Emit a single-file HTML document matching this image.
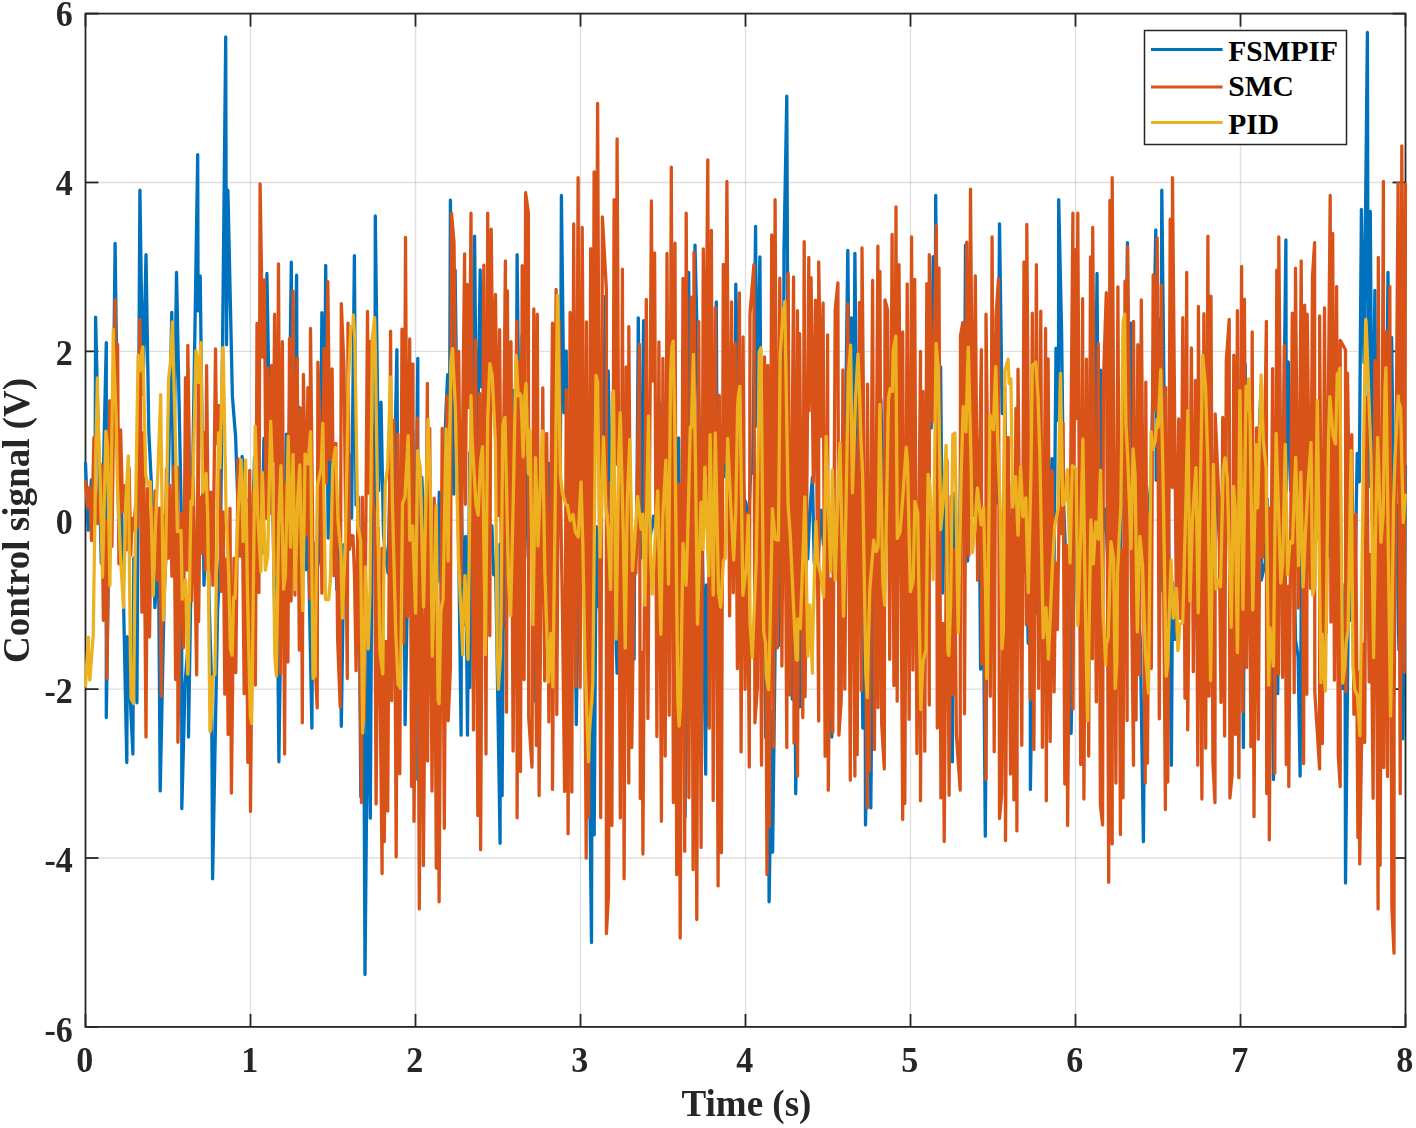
<!DOCTYPE html>
<html><head><meta charset="utf-8"><style>
html,body{margin:0;padding:0;background:#fff;width:1416px;height:1128px;overflow:hidden}
svg{display:block;filter:blur(0.6px)}
</style></head><body><svg width="1416" height="1128" viewBox="0 0 1416 1128"><g stroke="#262626" stroke-opacity="0.15" stroke-width="1.4"><line x1="250.50" y1="13.6" x2="250.50" y2="1026.9"/><line x1="415.50" y1="13.6" x2="415.50" y2="1026.9"/><line x1="580.50" y1="13.6" x2="580.50" y2="1026.9"/><line x1="745.50" y1="13.6" x2="745.50" y2="1026.9"/><line x1="910.50" y1="13.6" x2="910.50" y2="1026.9"/><line x1="1075.50" y1="13.6" x2="1075.50" y2="1026.9"/><line x1="1240.50" y1="13.6" x2="1240.50" y2="1026.9"/><line x1="85.5" y1="858.02" x2="1405.5" y2="858.02"/><line x1="85.5" y1="689.13" x2="1405.5" y2="689.13"/><line x1="85.5" y1="520.25" x2="1405.5" y2="520.25"/><line x1="85.5" y1="351.37" x2="1405.5" y2="351.37"/><line x1="85.5" y1="182.48" x2="1405.5" y2="182.48"/></g><g stroke="#262626" stroke-width="1.8" fill="none"><rect x="85.5" y="13.6" width="1320.0" height="1013.3000000000001" fill="none"/><line x1="85.50" y1="1026.9" x2="85.50" y2="1013.9000000000001"/><line x1="85.50" y1="13.6" x2="85.50" y2="26.6"/><line x1="250.50" y1="1026.9" x2="250.50" y2="1013.9000000000001"/><line x1="250.50" y1="13.6" x2="250.50" y2="26.6"/><line x1="415.50" y1="1026.9" x2="415.50" y2="1013.9000000000001"/><line x1="415.50" y1="13.6" x2="415.50" y2="26.6"/><line x1="580.50" y1="1026.9" x2="580.50" y2="1013.9000000000001"/><line x1="580.50" y1="13.6" x2="580.50" y2="26.6"/><line x1="745.50" y1="1026.9" x2="745.50" y2="1013.9000000000001"/><line x1="745.50" y1="13.6" x2="745.50" y2="26.6"/><line x1="910.50" y1="1026.9" x2="910.50" y2="1013.9000000000001"/><line x1="910.50" y1="13.6" x2="910.50" y2="26.6"/><line x1="1075.50" y1="1026.9" x2="1075.50" y2="1013.9000000000001"/><line x1="1075.50" y1="13.6" x2="1075.50" y2="26.6"/><line x1="1240.50" y1="1026.9" x2="1240.50" y2="1013.9000000000001"/><line x1="1240.50" y1="13.6" x2="1240.50" y2="26.6"/><line x1="1405.50" y1="1026.9" x2="1405.50" y2="1013.9000000000001"/><line x1="1405.50" y1="13.6" x2="1405.50" y2="26.6"/><line x1="85.5" y1="1026.90" x2="98.5" y2="1026.90"/><line x1="1405.5" y1="1026.90" x2="1392.5" y2="1026.90"/><line x1="85.5" y1="858.02" x2="98.5" y2="858.02"/><line x1="1405.5" y1="858.02" x2="1392.5" y2="858.02"/><line x1="85.5" y1="689.13" x2="98.5" y2="689.13"/><line x1="1405.5" y1="689.13" x2="1392.5" y2="689.13"/><line x1="85.5" y1="520.25" x2="98.5" y2="520.25"/><line x1="1405.5" y1="520.25" x2="1392.5" y2="520.25"/><line x1="85.5" y1="351.37" x2="98.5" y2="351.37"/><line x1="1405.5" y1="351.37" x2="1392.5" y2="351.37"/><line x1="85.5" y1="182.48" x2="98.5" y2="182.48"/><line x1="1405.5" y1="182.48" x2="1392.5" y2="182.48"/><line x1="85.5" y1="13.60" x2="98.5" y2="13.60"/><line x1="1405.5" y1="13.60" x2="1392.5" y2="13.60"/></g><defs><clipPath id="clp"><rect x="83.5" y="13.5" width="1324.0" height="1013.0"/></clipPath></defs><g fill="none" stroke-width="3.3" stroke-linejoin="round" stroke-linecap="round" clip-path="url(#clp)"><polyline stroke="#0072bd" points="85.5,463.2 88.2,530.2 91.4,479.8 95.0,521.6 95.6,317.1 101.3,563.2 106.3,342.6 106.3,717.5 110.0,457.9 113.0,436.7 115.1,243.3 118.9,541.5 121.6,505.9 126.8,762.5 127.3,636.6 132.9,754.0 133.8,558.0 136.9,702.8 139.9,190.2 142.9,394.3 146.0,254.7 148.8,431.3 151.6,488.8 154.9,607.7 158.5,554.1 160.2,790.9 164.2,595.9 167.6,515.5 171.8,312.4 173.4,503.4 176.5,272.4 181.7,535.2 181.8,808.6 185.1,683.5 188.4,641.2 188.5,737.0 197.7,154.7 198.1,310.8 200.2,275.9 204.0,585.3 206.7,501.6 209.1,601.1 211.6,683.6 212.6,878.8 217.6,611.1 220.4,556.1 225.7,37.0 226.5,344.7 227.9,190.2 232.4,396.4 235.6,436.8 239.1,539.2 242.1,456.5 245.5,500.0 248.9,500.4 252.0,547.1 254.5,457.5 256.9,530.2 259.1,520.0 261.9,553.4 263.9,438.5 266.4,471.5 266.9,273.5 270.4,475.2 272.4,484.1 274.9,626.6 277.1,577.2 278.9,761.8 282.2,521.0 284.1,570.8 286.4,434.1 288.2,515.2 291.3,262.1 292.5,513.6 296.6,275.2 297.4,526.7 299.3,407.4 301.5,502.8 303.8,511.6 305.7,569.6 307.8,516.5 311.9,728.1 312.9,542.1 315.4,642.8 317.2,569.1 319.7,553.9 321.9,312.6 324.4,441.6 325.7,265.3 328.2,538.1 330.8,374.6 332.8,555.9 334.6,506.4 336.8,589.7 339.4,512.6 341.3,726.3 344.0,544.6 346.6,564.1 349.1,455.0 351.6,518.1 354.4,255.7 356.0,504.9 358.6,498.1 360.8,796.7 363.4,615.0 365.0,974.5 368.2,632.7 370.3,818.2 372.5,426.1 374.8,511.4 375.3,216.0 378.7,490.6 381.0,402.1 383.5,534.6 385.5,556.1 388.0,573.1 390.5,454.8 392.9,547.7 396.9,349.7 397.7,485.0 400.1,518.7 402.4,642.9 404.2,571.2 405.1,724.6 408.3,542.7 410.8,508.5 412.9,430.4 415.0,651.3 417.8,358.5 417.8,779.5 421.8,477.1 424.0,527.7 426.3,550.5 428.8,536.5 431.0,574.5 433.2,579.6 435.7,568.2 437.4,582.0 439.3,492.2 441.4,599.0 443.3,495.2 445.9,412.0 447.7,374.6 449.6,421.1 450.4,200.1 453.8,494.0 455.1,269.9 461.1,735.2 461.5,503.6 463.8,624.9 465.6,536.4 467.5,735.2 469.7,452.7 469.9,687.4 474.6,236.2 476.8,491.5 480.2,269.9 481.3,386.8 483.6,361.8 485.4,475.7 487.3,428.8 489.9,552.1 491.9,525.7 493.7,574.8 495.8,575.2 500.1,843.3 500.1,544.0 502.1,795.7 504.1,485.9 506.3,628.0 508.7,487.8 510.7,500.4 513.2,390.3 515.9,515.8 517.1,254.7 520.2,542.9 522.1,335.5 524.8,557.3 527.3,454.2 529.2,503.1 531.3,539.5 533.4,556.7 535.5,701.5 535.8,580.3 539.6,584.0 542.1,570.4 544.6,491.6 546.4,537.7 548.7,463.3 551.0,527.3 553.6,437.0 555.7,592.2 558.3,339.9 560.2,498.4 561.4,195.5 564.0,412.7 566.2,350.8 568.1,545.6 570.1,486.1 572.0,606.8 573.9,465.7 576.3,724.6 578.5,569.8 581.1,554.8 583.5,417.5 585.5,605.2 588.1,640.0 591.5,942.6 592.4,549.2 594.2,834.8 596.2,526.6 598.5,606.7 600.2,472.8 602.7,488.9 605.4,296.5 607.0,512.8 608.2,370.9 611.0,529.6 612.9,523.0 617.1,673.2 617.1,536.7 619.2,591.4 621.3,486.9 623.7,543.1 625.6,541.8 627.5,524.9 629.9,528.6 634.1,659.0 634.5,577.6 636.6,544.2 638.3,317.8 640.6,557.9 643.6,320.6 644.2,536.9 646.5,389.1 648.9,546.1 651.5,527.7 653.6,516.1 656.0,535.3 658.0,482.9 659.9,402.7 662.0,520.6 664.4,544.4 666.8,565.8 669.4,442.1 671.9,511.7 674.2,511.4 676.4,511.3 678.6,438.0 680.8,643.8 683.2,585.3 685.1,816.7 688.7,272.4 690.1,632.7 692.3,384.6 694.8,516.9 695.0,245.1 699.4,434.7 701.6,486.2 705.7,774.2 706.4,585.0 709.2,726.3 710.4,543.9 712.7,630.2 716.3,301.8 716.7,391.5 719.2,466.7 721.2,502.2 723.3,449.6 725.7,477.1 728.3,477.8 730.6,444.9 732.9,380.3 735.0,471.1 735.8,284.1 739.5,472.6 741.6,425.7 744.0,498.5 745.8,502.8 748.2,538.6 750.6,472.3 752.7,473.1 755.6,226.3 756.5,426.2 759.9,256.8 761.2,480.0 763.8,444.0 765.7,737.5 767.5,445.4 769.1,901.8 772.0,712.2 772.6,852.2 776.2,558.9 778.6,645.6 781.2,363.1 783.5,426.9 784.0,249.7 786.8,96.2 788.1,423.8 792.4,699.2 794.8,601.9 795.7,793.7 799.3,562.8 799.9,706.8 803.4,510.6 805.5,544.6 807.7,559.0 809.9,508.9 812.4,477.3 814.2,560.6 816.2,581.0 818.8,547.3 821.0,510.1 823.4,544.4 825.7,498.8 827.6,580.6 829.7,623.8 831.8,737.0 833.6,528.7 836.2,540.6 838.6,504.6 841.2,592.9 842.9,480.4 845.3,441.7 847.8,250.4 849.5,416.0 851.3,317.8 853.7,443.7 854.9,253.3 858.0,572.9 860.5,482.1 862.8,728.0 864.8,501.1 865.5,824.9 869.4,574.3 870.8,807.9 873.6,499.7 875.6,643.1 877.4,513.5 879.4,489.8 880.8,398.6 883.5,509.9 885.7,446.8 888.2,514.3 890.6,568.6 893.0,530.2 895.6,411.6 897.6,557.1 899.7,531.2 901.7,544.4 903.5,560.1 905.8,598.6 908.0,549.5 909.8,535.1 912.4,469.1 915.0,537.3 916.9,541.7 918.6,533.1 920.4,463.3 922.8,548.5 925.3,527.4 927.2,542.3 928.9,370.9 931.2,428.0 933.2,256.6 935.0,414.6 935.7,195.5 938.7,580.8 940.6,366.8 942.7,593.0 944.9,474.0 946.9,569.5 948.9,615.6 952.4,761.8 953.3,493.3 955.3,623.0 957.6,561.3 959.7,551.3 961.8,334.7 963.9,536.9 965.5,245.1 967.6,561.1 969.9,363.6 972.3,515.4 974.3,478.3 976.2,493.4 978.8,444.8 980.6,669.2 983.1,561.6 985.3,836.2 987.5,518.4 990.0,641.8 991.9,372.7 993.7,542.7 994.9,335.5 997.7,503.2 999.5,223.8 1002.2,413.5 1004.6,403.3 1007.0,509.2 1008.8,528.3 1010.8,520.4 1013.2,510.1 1015.1,558.2 1017.7,489.6 1020.1,496.5 1022.1,489.2 1024.1,572.7 1026.1,522.8 1028.2,643.1 1030.2,594.7 1030.4,789.4 1034.0,541.9 1035.9,613.3 1038.0,566.3 1040.1,520.3 1042.6,507.9 1045.0,559.6 1047.3,528.8 1049.8,531.6 1051.9,458.6 1054.0,569.2 1056.0,348.2 1058.5,420.6 1058.7,199.7 1061.6,331.9 1063.6,501.7 1067.8,615.4 1069.6,567.3 1071.1,733.4 1074.6,546.9 1076.8,539.4 1079.4,490.0 1082.0,544.9 1084.4,498.9 1086.5,493.2 1088.6,494.8 1090.7,553.0 1092.8,415.2 1095.0,474.0 1097.0,273.5 1098.6,518.9 1100.5,370.2 1102.8,531.1 1105.3,509.1 1107.7,557.3 1109.6,543.8 1112.2,722.8 1114.1,645.3 1116.0,651.2 1117.8,527.6 1120.1,573.6 1122.1,454.5 1124.4,476.6 1127.5,242.6 1128.8,518.0 1130.8,323.1 1133.0,500.1 1135.2,491.8 1137.8,612.6 1140.3,639.5 1143.4,841.6 1145.2,627.3 1147.0,709.8 1148.9,505.1 1151.2,476.7 1155.8,229.9 1156.2,480.2 1158.1,318.8 1160.2,590.9 1161.8,190.2 1165.0,482.2 1167.5,452.3 1171.4,765.3 1172.5,582.9 1174.8,639.4 1177.2,567.0 1179.2,554.4 1181.1,529.3 1183.7,539.6 1185.5,511.3 1187.5,570.8 1189.8,467.9 1192.4,548.6 1194.3,529.6 1196.3,479.4 1198.8,488.8 1200.8,571.4 1203.0,528.3 1205.0,532.2 1206.8,495.6 1209.4,520.0 1211.8,541.8 1213.6,531.6 1215.4,447.3 1217.3,507.7 1219.4,538.1 1221.9,566.2 1223.8,525.1 1225.8,511.3 1227.8,511.9 1230.0,554.5 1232.6,534.3 1234.8,518.5 1237.4,482.9 1239.6,683.5 1241.7,484.4 1243.4,747.6 1245.2,363.8 1248.7,587.8 1250.9,556.9 1253.0,543.0 1255.1,462.6 1257.0,521.8 1258.9,438.3 1261.1,385.1 1261.3,580.2 1265.2,562.3 1267.1,498.4 1269.1,672.5 1270.9,517.2 1273.5,779.5 1275.3,602.0 1277.7,693.7 1280.2,489.0 1282.0,569.1 1285.9,239.8 1286.3,491.1 1288.3,362.0 1290.6,490.6 1293.1,488.2 1295.5,640.1 1298.1,656.3 1300.1,776.0 1301.9,498.9 1304.1,655.4 1305.9,526.6 1307.7,551.3 1309.8,478.0 1312.0,501.9 1313.9,514.5 1315.7,540.6 1317.8,520.3 1320.2,510.7 1322.4,544.8 1323.1,669.6 1327.4,475.4 1329.9,557.1 1332.2,445.5 1334.4,498.9 1336.5,482.5 1338.3,496.6 1340.1,540.2 1342.5,688.5 1345.0,584.0 1345.5,883.0 1348.7,567.3 1350.7,620.2 1352.7,540.2 1355.2,569.5 1357.2,453.5 1359.3,481.8 1361.4,209.5 1364.0,362.7 1367.4,32.4 1368.4,487.1 1370.3,211.4 1372.3,518.9 1374.9,290.3 1376.8,547.1 1378.9,454.3 1381.3,537.4 1383.5,340.2 1385.8,518.7 1388.0,272.4 1390.4,558.4 1391.6,337.3 1394.5,561.2 1396.7,505.5 1398.9,649.6 1401.1,583.1 1402.9,738.8 1405.5,466.4"/><polyline stroke="#d95319" points="85.5,481.3 87.6,507.1 89.5,487.7 91.6,540.5 93.9,437.7 95.8,480.5 97.4,523.7 99.2,512.0 101.4,464.8 103.4,620.4 105.5,520.8 107.0,678.5 109.7,400.7 111.9,546.4 115.1,300.0 115.8,435.3 117.6,344.4 118.9,563.8 120.6,429.8 122.7,511.9 124.8,485.6 127.0,549.8 129.1,467.6 130.7,555.2 132.2,518.3 133.9,529.8 135.5,504.9 137.4,527.3 139.9,319.5 141.9,612.2 143.5,432.7 146.0,737.0 147.5,488.3 149.5,636.9 151.4,507.5 153.1,569.3 155.3,491.0 157.5,579.9 159.5,508.2 161.2,696.2 163.0,516.0 164.8,579.1 166.5,469.0 168.2,558.3 169.8,485.4 171.9,576.3 173.9,466.3 175.6,679.5 177.8,467.5 177.9,742.3 181.5,513.5 183.5,647.6 185.5,377.7 187.2,570.2 187.8,345.4 191.5,600.9 193.2,476.8 196.7,674.9 198.4,360.3 198.6,621.6 200.2,497.5 202.1,553.0 203.8,432.3 205.4,569.9 206.6,365.6 208.8,588.3 210.9,492.1 212.9,585.3 215.5,349.0 216.6,443.7 218.7,405.4 221.0,591.4 223.2,511.8 224.8,694.2 226.6,558.8 228.1,734.4 230.0,508.3 231.4,793.0 234.0,558.2 235.8,672.6 238.1,458.9 240.1,556.1 242.3,510.3 244.2,693.7 246.2,521.3 247.8,762.3 249.7,470.5 250.5,811.4 253.4,490.6 255.4,685.1 257.0,323.4 258.9,592.5 260.1,183.8 262.8,357.1 264.4,280.0 266.1,518.4 267.9,368.2 269.9,513.4 271.7,365.4 273.4,461.1 274.6,314.2 276.9,576.1 278.5,263.9 280.5,673.7 282.4,341.7 284.6,754.0 285.7,484.5 287.9,662.0 289.5,338.6 291.1,601.1 293.1,291.2 294.9,595.1 297.2,358.2 299.3,650.0 301.0,408.7 302.3,722.8 303.4,374.5 306.3,535.1 307.9,387.7 309.8,598.7 310.5,328.4 313.8,634.9 317.2,707.9 317.9,362.1 320.2,433.0 321.9,593.2 324.1,348.4 326.3,483.0 327.8,281.6 330.0,459.4 332.1,368.9 334.0,575.7 335.9,443.4 337.6,638.8 340.2,706.8 341.3,303.6 344.0,366.9 347.3,678.5 348.0,323.1 349.4,549.5 351.4,535.4 353.0,535.8 354.5,575.3 356.1,670.7 358.1,496.7 361.5,802.6 362.3,497.1 364.3,720.6 367.5,311.4 368.4,493.1 370.7,341.2 372.8,498.7 374.6,513.8 376.1,804.0 378.3,527.5 382.1,873.5 382.2,548.2 384.3,841.5 386.0,641.3 387.7,811.0 390.6,331.2 391.7,700.6 393.8,420.4 396.2,856.8 397.8,434.1 399.8,773.8 402.0,329.1 403.8,642.9 405.5,237.3 407.5,616.5 409.7,338.9 411.6,786.4 412.9,363.8 414.0,821.3 417.3,418.2 419.3,908.9 421.5,499.0 423.4,865.5 427.4,383.3 427.6,760.9 429.7,428.5 432.0,791.1 434.2,498.2 436.3,868.1 438.2,674.4 439.1,901.8 442.2,428.5 444.3,828.3 446.9,395.8 448.2,720.8 450.4,667.9 451.5,213.2 454.0,241.9 456.3,446.7 458.7,351.4 460.9,583.0 464.6,254.0 465.4,504.3 467.2,284.4 469.3,407.7 471.0,213.2 473.5,729.9 475.6,339.8 477.8,815.5 479.7,393.5 480.6,849.7 483.8,265.2 486.0,754.0 487.7,213.2 489.8,635.7 491.2,229.1 493.2,409.2 495.5,294.5 497.8,515.7 499.6,329.7 501.8,628.1 505.4,261.0 506.5,712.2 507.4,291.0 509.1,575.6 511.0,341.7 513.1,751.0 516.7,321.3 517.1,817.8 518.9,361.5 520.5,771.5 522.2,265.6 524.1,679.6 525.6,192.6 528.4,213.2 528.7,717.4 532.0,767.1 533.8,308.9 536.4,745.5 537.3,314.2 539.1,795.5 542.8,388.0 544.7,680.9 546.7,433.3 548.9,721.9 552.5,323.1 552.5,789.4 556.1,289.4 556.8,714.5 559.1,321.3 560.8,510.2 562.5,613.7 564.6,791.4 566.3,389.7 568.1,833.8 570.1,312.4 571.8,792.1 573.7,223.9 575.9,686.4 578.1,177.7 580.1,687.0 582.2,227.4 586.2,858.2 586.5,321.9 588.6,817.2 590.7,248.7 592.3,703.8 594.1,171.9 596.2,398.9 597.6,103.3 600.7,817.5 602.4,216.8 606.4,289.9 606.4,933.7 608.5,894.7 610.2,482.3 611.9,825.5 614.1,199.6 616.1,464.2 617.1,138.8 620.3,817.9 622.4,269.2 624.1,878.8 626.2,366.9 628.8,783.1 628.8,326.6 631.8,747.6 634.1,560.8 635.9,573.1 639.4,344.4 640.3,798.6 642.2,652.3 642.9,854.0 646.3,299.4 647.9,718.6 651.4,200.8 652.4,380.8 654.6,253.0 656.9,736.5 658.9,341.8 661.4,821.3 662.9,358.3 665.2,756.1 667.0,253.5 669.2,715.2 671.3,167.1 673.4,802.5 675.0,243.2 676.7,874.7 678.8,484.5 680.2,938.0 683.0,278.3 684.7,851.3 686.2,213.2 688.9,797.5 691.2,297.2 693.1,869.7 694.0,252.2 696.8,919.5 698.7,321.6 701.1,847.4 703.3,248.8 705.1,476.1 707.8,160.0 709.2,728.2 711.4,230.5 713.2,800.6 715.3,307.8 718.1,885.9 719.3,395.4 721.4,852.8 723.3,264.3 725.2,462.1 726.9,181.3 729.6,615.9 731.6,301.8 733.3,592.8 735.2,343.7 737.4,668.6 739.4,293.0 741.1,751.9 743.1,336.9 745.1,689.3 747.4,513.6 749.3,767.1 750.0,314.2 753.9,264.6 754.9,722.8 757.4,687.4 759.4,353.1 761.5,765.2 764.5,356.8 767.0,874.5 767.8,365.4 769.4,826.2 771.7,235.0 773.5,747.1 775.1,199.7 777.4,647.8 779.8,278.2 781.9,666.0 784.1,320.9 786.8,747.6 788.2,273.5 790.0,694.9 793.6,277.0 794.0,743.2 797.5,310.7 797.5,776.0 799.6,333.6 802.8,717.5 804.2,241.6 805.1,696.8 808.8,257.5 809.0,410.8 811.1,277.6 813.3,482.3 815.5,300.1 818.7,721.0 818.7,261.8 821.5,436.1 823.1,302.9 825.1,756.3 827.6,334.8 828.3,790.2 830.4,578.9 832.8,732.4 835.2,309.8 837.9,283.0 838.9,735.2 841.2,700.5 842.9,369.9 844.8,689.2 847.8,303.6 850.3,780.2 850.8,363.6 854.9,776.0 854.9,435.4 857.2,754.7 859.5,302.3 861.4,690.6 862.0,247.9 867.3,807.9 867.5,384.1 869.3,770.8 872.6,280.5 874.4,749.4 877.9,246.2 878.1,707.5 879.9,271.4 881.7,724.2 884.3,768.9 885.0,300.0 887.6,309.8 889.7,659.4 892.1,234.5 893.9,685.6 896.0,206.8 897.2,701.2 899.0,264.7 902.7,819.6 902.7,331.9 904.8,803.5 907.2,283.9 909.1,719.3 911.6,236.9 912.9,670.1 914.7,279.3 916.9,753.6 920.5,351.4 920.5,800.8 922.9,391.3 924.8,751.2 926.8,283.7 929.3,705.1 929.3,254.7 933.0,421.6 936.4,225.6 937.3,728.1 939.0,268.0 940.9,797.9 942.9,623.4 944.2,841.6 947.0,459.9 949.1,795.3 951.1,496.4 952.9,694.4 954.6,549.3 956.4,734.8 960.2,790.2 960.5,335.5 962.8,322.6 964.5,713.8 966.7,242.1 968.8,555.5 970.5,189.1 973.0,515.6 975.3,275.8 977.6,580.3 981.4,349.7 981.7,664.3 983.7,549.3 986.0,779.5 986.0,314.2 990.3,696.3 992.1,236.9 994.2,751.7 996.0,315.8 998.5,278.8 999.5,818.5 1001.7,794.2 1004.8,386.9 1005.5,840.5 1008.2,437.3 1010.5,774.0 1012.3,481.3 1013.9,799.9 1015.9,408.5 1016.9,830.9 1018.0,369.2 1021.8,745.3 1024.0,261.9 1026.3,624.8 1026.8,224.5 1030.2,699.3 1032.3,313.2 1033.9,749.4 1036.4,264.6 1038.5,688.3 1040.8,311.2 1042.4,747.4 1045.6,328.4 1046.3,800.8 1048.1,358.8 1050.2,741.6 1052.2,470.6 1054.1,691.9 1055.7,562.8 1057.4,629.5 1059.2,507.3 1060.8,533.7 1063.0,423.1 1064.8,784.1 1066.7,545.4 1067.6,825.6 1072.9,213.2 1073.0,709.1 1075.1,249.7 1076.9,418.6 1077.8,213.2 1080.7,764.4 1082.6,298.7 1083.9,799.0 1086.5,359.1 1088.7,756.1 1090.5,256.9 1092.4,658.8 1092.7,227.4 1096.3,701.9 1098.3,343.8 1100.4,804.9 1102.6,824.9 1103.4,381.6 1106.3,292.7 1108.7,882.3 1109.9,200.4 1112.2,843.9 1112.2,177.7 1115.9,783.1 1117.9,287.0 1120.4,834.5 1121.4,550.5 1123.0,797.8 1125.0,281.2 1127.1,720.6 1127.5,246.9 1133.5,765.3 1133.5,321.3 1136.1,719.9 1137.8,344.7 1139.5,674.7 1141.3,300.0 1145.2,783.1 1145.8,382.2 1147.4,763.1 1149.3,514.2 1151.3,668.5 1153.2,275.0 1155.5,410.3 1157.2,238.0 1159.3,718.8 1161.3,285.1 1165.4,809.6 1165.7,387.3 1167.8,782.1 1170.2,219.1 1172.4,487.4 1172.5,177.7 1176.6,632.0 1178.7,418.9 1180.7,618.5 1182.8,317.7 1185.0,698.2 1186.7,272.4 1187.7,729.9 1191.4,348.0 1193.3,671.7 1195.5,380.5 1197.8,765.2 1198.4,306.4 1201.9,799.0 1203.9,313.7 1205.7,748.2 1207.9,236.2 1209.1,696.2 1211.0,296.2 1212.9,762.1 1215.0,802.6 1215.2,413.8 1218.8,497.0 1221.0,702.4 1222.7,417.3 1224.6,736.0 1226.3,361.1 1229.2,319.5 1229.9,798.0 1232.1,774.8 1233.8,355.2 1235.5,734.4 1237.4,310.7 1238.8,777.7 1241.6,266.4 1242.8,711.7 1244.4,299.1 1246.6,667.6 1248.8,408.5 1250.9,746.7 1252.2,331.9 1254.0,816.7 1256.5,427.9 1258.3,739.2 1260.4,430.0 1262.8,557.0 1266.4,321.3 1266.7,793.6 1268.7,507.8 1269.3,839.8 1272.6,368.6 1274.8,773.2 1276.8,270.1 1278.4,674.1 1278.8,236.9 1282.5,677.4 1284.3,345.2 1286.3,764.5 1288.4,586.1 1288.8,786.6 1292.3,313.1 1294.2,692.7 1295.5,268.1 1298.3,608.0 1301.2,261.0 1303.6,763.6 1304.7,305.2 1306.8,694.3 1307.2,314.2 1310.5,588.3 1312.5,276.4 1314.6,242.6 1314.8,691.8 1319.6,768.9 1319.6,316.0 1322.4,743.5 1324.5,307.8 1326.3,632.9 1330.2,195.5 1330.9,622.0 1332.7,233.3 1334.4,680.2 1336.6,286.6 1338.3,755.3 1340.2,786.6 1340.2,340.3 1345.5,349.7 1345.8,691.8 1347.5,373.1 1349.9,541.7 1351.8,434.6 1353.9,714.3 1355.7,514.4 1357.9,837.6 1359.6,671.8 1359.7,863.9 1363.1,644.2 1364.7,742.5 1366.4,397.5 1369.2,681.9 1370.8,554.3 1373.1,798.3 1374.9,360.3 1378.1,908.9 1378.3,257.5 1380.1,865.3 1383.4,181.3 1383.8,767.5 1386.2,331.9 1387.5,776.5 1389.8,286.5 1391.9,907.6 1394.0,953.2 1394.1,706.8 1398.1,183.2 1400.2,793.7 1401.8,145.8 1404.2,672.2 1405.5,184.1"/><polyline stroke="#edb120" points="85.5,685.8 88.4,637.2 88.5,658.1 89.8,680.2 93.2,635.3 95.9,450.8 97.4,377.9 98.0,412.8 100.1,477.5 102.5,577.0 105.9,431.1 107.5,446.9 109.9,585.6 113.3,329.4 113.4,347.4 116.2,418.4 117.3,481.3 120.5,556.4 123.5,607.3 125.7,503.8 128.3,456.0 130.2,639.7 131.1,698.6 133.6,703.6 135.8,495.4 138.1,355.2 140.0,370.9 141.7,353.7 142.8,346.8 145.8,475.2 147.9,485.0 150.4,481.7 153.2,595.5 155.5,524.2 158.2,464.4 160.7,394.6 163.5,620.0 165.5,564.6 168.6,378.8 170.2,364.9 171.5,345.1 172.4,321.8 175.2,429.3 177.4,531.7 181.0,530.5 182.3,599.1 185.7,580.0 187.8,674.1 188.1,668.2 191.0,500.9 192.5,504.8 196.0,350.8 197.8,366.6 198.4,382.7 200.9,342.7 202.7,492.4 206.1,473.5 207.7,516.8 210.0,731.6 210.8,728.7 212.8,676.8 214.9,674.7 218.5,432.9 220.0,467.7 222.8,347.6 223.2,348.9 226.2,517.6 228.7,575.0 230.4,648.7 232.1,655.2 233.5,597.2 235.1,598.2 238.1,511.3 241.1,459.9 243.1,541.7 245.6,459.8 247.3,584.0 250.3,715.8 251.6,723.6 252.4,669.7 255.2,426.1 257.7,514.0 260.9,571.6 262.3,472.4 265.4,570.2 267.7,555.8 270.7,421.2 272.8,482.1 274.8,656.8 276.4,676.1 278.6,525.6 280.9,465.6 283.6,589.1 285.4,576.2 288.2,436.5 290.5,547.1 293.1,454.3 295.1,589.5 297.7,499.0 299.8,465.0 302.7,610.6 305.1,453.8 308.1,463.8 310.6,431.7 313.0,678.4 315.2,675.9 315.4,646.9 317.3,485.7 321.2,468.6 322.8,423.5 325.5,599.4 328.7,599.7 330.4,579.2 332.7,466.0 335.5,447.7 338.1,521.6 341.0,554.3 342.4,618.2 345.4,541.3 348.4,383.9 350.8,326.4 353.1,325.8 353.3,315.0 354.8,339.4 357.8,525.5 360.6,541.0 362.7,732.9 363.3,719.6 365.5,566.9 368.3,648.9 370.0,589.2 372.3,338.8 374.6,317.7 375.3,348.1 377.4,490.6 380.0,651.9 382.8,674.0 383.6,590.0 385.3,483.8 387.6,467.2 390.6,376.8 390.9,389.9 392.4,502.7 395.9,637.2 396.9,656.4 398.0,684.2 400.6,688.3 402.5,503.5 405.0,496.8 408.2,435.6 409.8,540.3 412.6,525.9 415.6,613.2 417.6,450.8 420.3,467.4 423.6,606.9 426.1,492.2 428.1,419.3 430.6,501.3 432.3,656.1 436.2,506.0 438.1,700.7 439.1,703.7 440.9,610.5 443.1,599.0 446.1,428.9 448.1,561.1 450.8,362.5 452.5,348.6 453.3,366.2 455.4,407.7 458.3,555.1 459.9,590.0 462.9,654.8 462.9,628.3 465.0,575.6 468.0,659.3 471.0,395.7 471.7,425.9 472.4,444.2 476.0,504.9 478.1,515.2 480.6,461.7 482.5,446.6 485.4,654.6 487.7,419.4 489.8,363.7 492.3,375.9 493.0,392.5 495.4,443.2 497.2,647.8 498.4,689.1 500.6,653.0 502.8,425.1 505.0,417.4 508.5,579.9 510.6,615.7 513.4,492.9 516.0,355.4 518.2,395.9 519.6,393.5 520.9,394.9 523.2,456.9 524.8,396.6 526.0,383.4 528.4,473.8 530.0,430.0 532.9,624.6 535.5,457.7 538.0,546.0 541.0,465.1 542.5,430.8 544.8,569.6 548.5,682.1 550.9,633.4 551.5,641.5 552.9,686.9 555.4,486.9 557.4,295.3 557.9,303.9 560.3,474.9 562.4,493.0 565.8,504.5 567.4,505.4 570.1,520.5 573.1,514.5 575.2,531.6 578.2,536.9 581.0,481.9 582.8,543.8 584.9,656.7 588.5,761.8 589.4,733.6 590.9,711.7 592.8,683.4 596.0,375.5 597.6,382.3 597.8,405.6 600.1,557.1 603.5,437.0 605.9,506.9 608.0,528.7 610.7,589.4 612.6,392.4 613.5,391.1 616.1,639.0 618.7,458.0 620.2,412.6 623.5,541.9 625.2,648.1 627.3,498.5 629.8,439.5 632.5,570.6 634.9,536.9 637.6,496.4 641.1,529.1 642.9,514.1 644.9,605.2 648.5,415.8 650.4,552.8 652.3,594.2 656.0,521.1 657.7,490.8 660.8,634.3 662.8,517.3 665.9,460.1 668.5,584.0 670.6,373.4 672.0,347.1 673.1,341.1 674.9,433.1 677.8,698.7 679.1,726.1 680.4,707.3 683.0,543.4 686.1,585.2 687.7,535.3 690.3,426.9 691.5,427.6 693.4,354.3 695.4,457.3 697.5,624.3 701.0,502.1 703.1,549.4 704.8,467.1 708.7,575.8 710.1,434.6 713.2,594.9 715.3,433.0 718.5,591.3 720.7,607.2 723.5,560.5 725.2,558.5 727.7,438.5 730.7,504.2 733.7,559.9 735.8,510.1 737.6,408.3 738.3,395.7 739.9,386.5 742.9,595.3 746.2,568.3 748.3,515.6 750.0,623.8 750.3,626.4 752.3,657.5 756.2,561.2 758.5,424.0 759.2,352.2 761.0,347.7 763.7,631.6 765.6,643.6 766.3,676.2 768.6,689.7 770.0,631.6 772.4,508.7 775.3,539.4 778.4,540.2 780.2,354.6 783.2,308.6 784.0,320.5 784.8,301.3 788.1,504.7 790.3,536.1 793.6,608.2 796.2,659.9 797.5,660.1 797.8,618.8 800.3,628.7 803.6,537.7 804.8,496.8 807.9,656.1 809.9,604.8 812.4,673.2 812.4,651.1 815.9,521.4 817.7,562.0 820.6,574.1 823.6,597.1 826.1,436.3 828.2,500.3 830.7,572.2 832.3,470.0 835.2,580.3 838.3,480.0 840.0,443.0 843.5,616.1 845.5,534.3 848.4,373.3 850.0,354.9 850.6,345.1 852.4,492.8 855.5,400.2 858.0,354.1 859.5,390.4 860.8,435.7 862.6,474.0 865.8,673.7 867.3,697.7 868.4,641.4 869.8,589.3 873.7,540.2 876.2,551.5 878.1,547.0 879.8,404.5 882.8,581.5 884.8,605.0 888.5,398.9 890.1,388.7 892.5,391.3 893.2,349.7 895.8,336.2 897.3,538.4 900.1,531.6 903.0,494.7 906.2,447.2 907.5,462.7 910.4,591.7 913.2,581.4 914.9,501.5 917.7,512.4 920.8,709.6 922.2,677.6 923.1,661.9 926.0,649.4 928.1,474.4 930.0,486.0 933.2,579.6 936.1,343.4 938.0,366.9 938.2,365.4 940.7,529.6 943.0,504.3 946.1,445.3 947.9,651.4 948.8,655.3 950.6,605.1 952.8,434.8 954.9,433.0 958.2,632.4 961.2,473.3 963.2,406.3 966.0,431.9 967.6,369.1 968.3,347.2 971.1,463.7 972.3,552.8 975.1,528.8 977.4,487.9 981.1,524.8 983.6,507.2 985.6,593.0 986.8,678.5 987.4,675.0 989.9,415.0 993.4,429.6 994.9,385.9 995.8,366.3 997.4,433.0 1000.3,512.6 1002.0,648.6 1003.4,630.6 1004.9,371.0 1008.1,359.1 1009.1,383.5 1010.9,378.9 1012.7,507.2 1015.6,476.6 1018.0,535.2 1020.6,467.0 1022.9,516.5 1025.8,498.0 1028.3,592.7 1030.9,476.0 1032.3,365.2 1035.7,362.5 1035.8,361.9 1038.0,396.8 1039.9,456.8 1043.2,637.8 1046.0,607.7 1048.1,648.1 1048.4,659.1 1050.2,618.1 1052.4,565.7 1054.8,525.0 1058.1,509.2 1060.0,394.8 1060.5,373.4 1062.7,505.3 1065.1,500.2 1067.3,469.6 1070.0,562.9 1072.3,465.6 1076.2,468.9 1077.8,625.3 1081.0,526.4 1082.9,439.0 1085.1,592.4 1087.4,715.6 1087.6,720.6 1090.9,519.8 1093.3,563.8 1095.8,522.0 1098.5,539.3 1100.5,470.1 1102.9,601.9 1105.6,664.8 1106.2,644.9 1108.2,637.7 1110.9,541.7 1113.6,558.0 1115.2,688.5 1116.8,662.8 1117.5,573.8 1120.9,504.2 1123.0,323.1 1124.6,314.1 1125.9,423.9 1127.9,461.3 1131.0,548.5 1133.1,448.8 1135.1,475.0 1137.3,631.9 1139.9,536.3 1142.5,565.3 1145.4,652.0 1145.9,659.5 1148.5,693.1 1151.1,431.8 1153.1,449.6 1155.2,441.0 1157.2,419.1 1158.2,427.1 1160.7,369.7 1163.0,474.4 1166.2,676.3 1167.9,663.1 1168.5,637.4 1171.1,560.0 1173.2,618.1 1176.2,588.3 1177.8,650.5 1178.3,649.3 1179.8,624.4 1182.7,622.6 1186.0,499.7 1187.9,410.6 1190.0,600.9 1192.4,520.1 1195.9,467.6 1198.2,612.8 1200.5,478.1 1202.7,355.1 1205.5,386.0 1205.7,391.8 1207.8,463.4 1209.7,621.1 1210.6,680.6 1213.4,464.4 1216.0,589.2 1217.4,579.4 1220.5,586.8 1223.2,469.4 1225.0,458.0 1227.3,477.9 1231.2,627.3 1233.5,486.5 1235.2,507.1 1237.4,652.5 1237.7,635.4 1239.9,390.6 1243.0,609.4 1246.1,386.3 1246.9,410.0 1248.6,378.9 1250.1,421.6 1252.8,610.0 1256.2,444.7 1257.7,507.9 1261.1,374.8 1261.2,379.7 1263.4,441.7 1266.1,467.7 1268.6,685.2 1270.0,638.4 1270.0,627.7 1273.4,666.2 1276.1,433.5 1278.5,509.4 1280.8,583.0 1282.7,562.5 1285.3,444.5 1287.6,574.8 1289.9,541.3 1292.5,543.0 1295.7,457.3 1298.6,565.5 1300.8,472.1 1303.1,586.9 1305.1,539.9 1308.0,485.5 1311.0,442.3 1312.7,595.0 1315.0,584.8 1317.3,400.4 1320.9,682.7 1322.3,634.1 1323.1,661.5 1325.4,690.9 1328.5,439.3 1329.5,405.1 1329.8,396.7 1333.0,435.4 1335.5,443.8 1337.3,373.9 1337.3,379.5 1339.8,368.2 1342.7,683.0 1344.8,666.6 1346.2,642.6 1348.1,630.1 1351.1,450.5 1352.9,665.3 1354.8,689.9 1357.4,695.5 1357.9,701.9 1359.9,735.7 1363.5,450.3 1365.7,319.4 1366.0,320.4 1367.3,353.2 1371.0,455.4 1373.6,657.6 1375.4,539.5 1377.7,437.4 1381.0,542.3 1383.2,514.3 1385.0,389.1 1385.9,367.7 1387.6,493.5 1390.5,716.2 1391.0,695.4 1393.5,503.7 1395.1,455.3 1398.3,396.0 1398.5,401.6 1400.6,407.6 1403.2,522.5 1405.5,495.2"/></g><g font-family='"Liberation Serif", serif' font-weight="bold" font-size="34" fill="#262626"><text transform="translate(84.70,1071.5) scale(1,1.07)" text-anchor="middle">0</text><text transform="translate(249.70,1071.5) scale(1,1.07)" text-anchor="middle">1</text><text transform="translate(414.70,1071.5) scale(1,1.07)" text-anchor="middle">2</text><text transform="translate(579.70,1071.5) scale(1,1.07)" text-anchor="middle">3</text><text transform="translate(744.70,1071.5) scale(1,1.07)" text-anchor="middle">4</text><text transform="translate(909.70,1071.5) scale(1,1.07)" text-anchor="middle">5</text><text transform="translate(1074.70,1071.5) scale(1,1.07)" text-anchor="middle">6</text><text transform="translate(1239.70,1071.5) scale(1,1.07)" text-anchor="middle">7</text><text transform="translate(1404.70,1071.5) scale(1,1.07)" text-anchor="middle">8</text><text transform="translate(72.8,1041.60) scale(1,1.07)" text-anchor="end">-6</text><text transform="translate(72.8,872.37) scale(1,1.07)" text-anchor="end">-4</text><text transform="translate(72.8,703.13) scale(1,1.07)" text-anchor="end">-2</text><text transform="translate(72.8,533.90) scale(1,1.07)" text-anchor="end">0</text><text transform="translate(72.8,364.67) scale(1,1.07)" text-anchor="end">2</text><text transform="translate(72.8,195.43) scale(1,1.07)" text-anchor="end">4</text><text transform="translate(72.8,26.20) scale(1,1.07)" text-anchor="end">6</text></g><text x="746.5" y="1115.5" text-anchor="middle" font-family='"Liberation Serif", serif' font-weight="bold" font-size="37" fill="#262626">Time (s)</text><text transform="translate(28.8,520.5) rotate(-90)" x="0" y="0" text-anchor="middle" font-family='"Liberation Serif", serif' font-weight="bold" font-size="37" fill="#262626">Control signal (V)</text><rect x="1144.5" y="30.5" width="202" height="114" fill="#fff" stroke="#262626" stroke-width="1.5"/><line x1="1151" y1="49.6" x2="1222.6" y2="49.6" stroke="#0072bd" stroke-width="3"/><text x="1228.3" y="60.6" font-family='"Liberation Serif", serif' font-weight="bold" font-size="29.5" fill="#000">FSMPIF</text><line x1="1151" y1="86.9" x2="1222.6" y2="86.9" stroke="#d95319" stroke-width="3"/><text x="1228.3" y="96.3" font-family='"Liberation Serif", serif' font-weight="bold" font-size="29.5" fill="#000">SMC</text><line x1="1151" y1="122.6" x2="1222.6" y2="122.6" stroke="#edb120" stroke-width="3"/><text x="1228.3" y="133.7" font-family='"Liberation Serif", serif' font-weight="bold" font-size="29.5" fill="#000">PID</text></svg></body></html>
